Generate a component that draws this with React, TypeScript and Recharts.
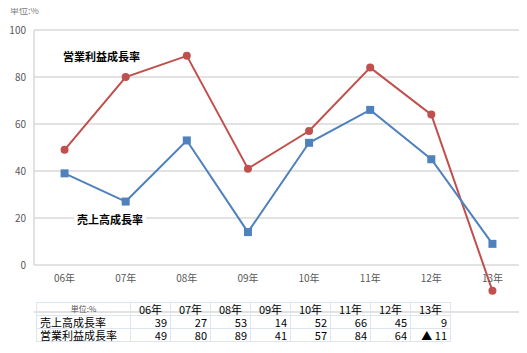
import React from 'react';
import {
  LineChart,
  Line,
  XAxis,
  YAxis,
  CartesianGrid,
  ReferenceLine
} from 'recharts';

const years = ['06年', '07年', '08年', '09年', '10年', '11年', '12年', '13年'];
const salesGrowth = [39, 27, 53, 14, 52, 66, 45, 9];
const profitGrowth = [49, 80, 89, 41, 57, 84, 64, -11];
const yTicks = [0, 20, 40, 60, 80, 100];

const SALES = '売上高成長率';
const PROFIT = '営業利益成長率';

const data = years.map((y, i) => ({
  idx: i,
  year: y,
  sales: salesGrowth[i],
  profit: profitGrowth[i]
}));

const FONT = '"Noto Sans CJK JP", "DejaVu Sans", sans-serif';
const BLUE = '#4F81BD';
const RED = '#C0504D';

// Excel shows negatives with a triangle
const fmt = (v: number) => (v < 0 ? `▲ ${-v}` : String(v));

const SquareDot = (props: any) => {
  const { cx, cy } = props;
  if (cx == null || cy == null) return null;
  return <rect x={cx - 4} y={cy - 4} width={8} height={8} fill={BLUE} />;
};

// labels sit just under the 0 gridline, not at the bottom of the plot
const YearTick = (props: any) => {
  const { x, y, payload } = props;
  return (
    <text x={x} y={y - 30} textAnchor="middle" fontSize={10} fill="#595959" fontFamily={FONT}>
      {years[payload.value]}
    </text>
  );
};

const cell: React.CSSProperties = {
  border: '1px solid #dde6f0',
  padding: '0 3px',
  height: 12,
  lineHeight: '12px',
  textAlign: 'right'
};

export default function App() {
  return (
    <div style={{ position: 'relative', width: 527, height: 353, margin: -8, fontFamily: FONT, background: '#fff' }}>
      <div style={{ position: 'absolute', left: 10, top: 4, fontSize: 9, color: '#808080' }}>単位:%</div>

      <div style={{ position: 'absolute', left: 0, top: 0 }}>
        <LineChart width={527} height={320} data={data} margin={{ top: 30, right: 4, bottom: 0, left: 0 }}>
          <CartesianGrid vertical={false} stroke="#d9d9d9" strokeWidth={1.5} />
          <XAxis
            dataKey="idx"
            type="number"
            domain={[-0.5, 7.5]}
            ticks={[0, 1, 2, 3, 4, 5, 6, 7]}
            height={8}
            axisLine={false}
            tickLine={false}
            tickSize={0}
            tickMargin={0}
            tick={<YearTick />}
          />
          <YAxis
            domain={[-20, 100]}
            ticks={yTicks}
            width={34}
            axisLine={false}
            tickLine={false}
            tick={{ fontSize: 10, fill: '#595959', fontFamily: FONT }}
          />
          <ReferenceLine
            segment={[{ x: -0.5, y: 0 }, { x: -0.5, y: 100 }]}
            stroke="#d9d9d9"
            strokeWidth={1.5}
          />
          <Line
            dataKey="profit"
            name={PROFIT}
            stroke={RED}
            strokeWidth={2}
            dot={{ r: 4, fill: RED, stroke: RED, strokeWidth: 0 }}
            isAnimationActive={false}
          />
          <Line
            dataKey="sales"
            name={SALES}
            stroke={BLUE}
            strokeWidth={2}
            dot={<SquareDot />}
            isAnimationActive={false}
          />
        </LineChart>
      </div>

      <div style={{ position: 'absolute', left: 63, top: 48, fontSize: 11, fontWeight: 'bold', color: '#000' }}>
        {PROFIT}
      </div>
      <div style={{ position: 'absolute', left: 74, top: 211, fontSize: 11, fontWeight: 'bold', color: '#000', background: '#fff', padding: '0 3px' }}>
        {SALES}
      </div>

      <table
        style={{
          position: 'absolute',
          left: 36,
          top: 302,
          borderCollapse: 'collapse',
          fontSize: 11,
          color: '#000',
          fontFamily: FONT
        }}
      >
        <tbody>
          <tr>
            <td style={{ ...cell, width: 87, fontSize: 8, color: '#555', textAlign: 'center' }}>単位:%</td>
            {years.map((y) => (
              <td key={y} style={{ ...cell, width: 33, textAlign: 'center' }}>{y}</td>
            ))}
          </tr>
          <tr>
            <td style={{ ...cell, textAlign: 'left' }}>{SALES}</td>
            {salesGrowth.map((v, i) => (
              <td key={i} style={cell}>{fmt(v)}</td>
            ))}
          </tr>
          <tr>
            <td style={{ ...cell, textAlign: 'left' }}>{PROFIT}</td>
            {profitGrowth.map((v, i) => (
              <td key={i} style={cell}>{fmt(v)}</td>
            ))}
          </tr>
        </tbody>
      </table>
    </div>
  );
}
